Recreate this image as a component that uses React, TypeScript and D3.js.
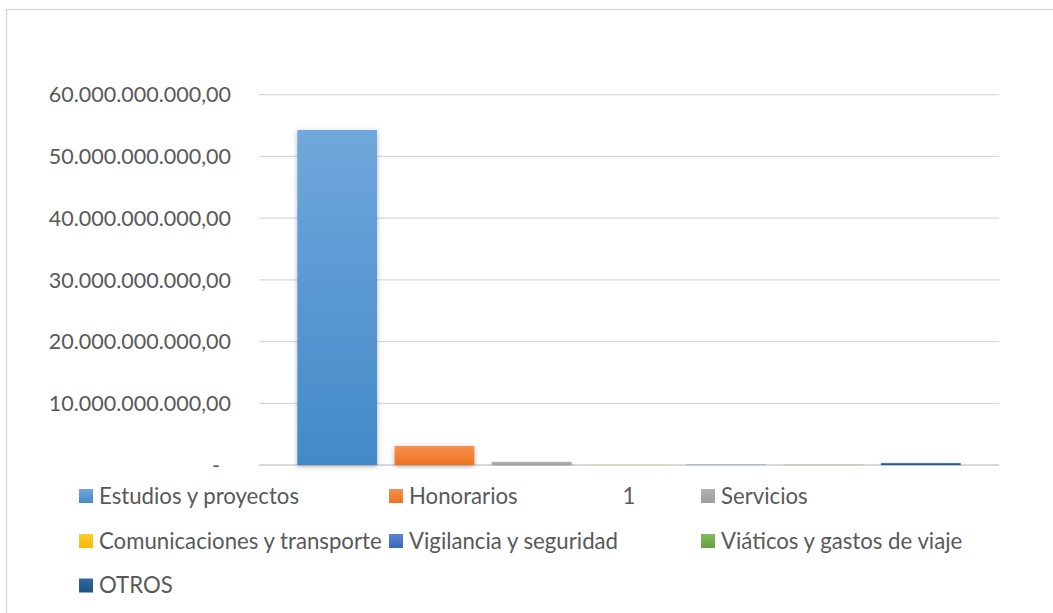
import React from "react";
import * as d3 from "d3";

const categories = ["1"];
const seriesNames = [
  "Estudios y proyectos",
  "Honorarios",
  "Servicios",
  "Comunicaciones y transporte",
  "Vigilancia y seguridad",
  "Viáticos y gastos de viaje",
  "OTROS",
];
const seriesValues = [54.28e9, 3.08e9, 0.5e9, 0.04e9, 0.06e9, 0.04e9, 0.3e9];
const yTicks = [0, 10e9, 20e9, 30e9, 40e9, 50e9, 60e9];
const colorsTop = ["#70A7DC", "#F5914F", "#B2B2B2", "#FFCD33", "#5B86D0", "#82BC5D", "#2F6AA0"];
const colorsBottom = ["#4389C8", "#EE7420", "#9D9D9D", "#F3B800", "#3B67B8", "#65A03C", "#1F5283"];

const W = 1053;
const H = 613;
const plotLeft = 259;
const plotRight = 999;
const plotTop = 94.7;
const plotBottom = 465;
const textColor = "#595959";
const fontFamily = "Lato, 'Open Sans', sans-serif";
const fontSize = 21.5;
const legendFontSize = 22.2;

const locale = d3.formatLocale({ decimal: ",", thousands: ".", grouping: [3], currency: ["", ""] });
const fmt = locale.format(",.2f");

export default function App() {
  const y = d3.scaleLinear().domain([0, 60e9]).range([plotBottom, plotTop]);
  const xCat = d3.scaleBand().domain(categories).range([plotLeft, plotRight]).padding(0);
  const x = d3
    .scaleBand()
    .domain(seriesNames)
    .range([xCat(categories[0])!, xCat(categories[0])! + xCat.bandwidth()])
    .paddingInner(0.18)
    .paddingOuter(0.394);

  const legendCols = [79, 389, 701];
  const legendRows = [496, 541, 585.5];
  const legendSlots: [number, number][] = [
    [0, 0],
    [1, 0],
    [2, 0],
    [0, 1],
    [1, 1],
    [2, 1],
    [0, 2],
  ];

  return (
    <div style={{ position: "absolute", left: 0, top: 0 }}>
      <svg width={W} height={H} style={{ display: "block", background: "#fff" }}>
        <defs>
          {seriesNames.map((s, i) => (
            <linearGradient key={s} id={`g${i}`} x1="0" y1="0" x2="0" y2="1">
              <stop offset="0" stopColor={colorsTop[i]} />
              <stop offset="1" stopColor={colorsBottom[i]} />
            </linearGradient>
          ))}
          <filter id="shadow" x="-20%" y="-20%" width="140%" height="140%">
            <feDropShadow dx="0" dy="1.5" stdDeviation="2.5" floodColor="#000" floodOpacity="0.3" />
          </filter>
        </defs>
        <rect x={6.5} y={9.5} width={W} height={H} fill="#fff" stroke="#D9D9D9" strokeWidth={1.5} />

        {yTicks.map((t) => (
          <g key={t}>
            <line
              x1={plotLeft}
              x2={plotRight}
              y1={y(t)}
              y2={y(t)}
              stroke="#D9D9D9"
              strokeWidth={t === 0 ? 2 : 1.3}
            />
            <text
              x={t === 0 ? 220 : 231}
              y={y(t)}
              dy="0.36em"
              textAnchor="end"
              fill={textColor}
              fontFamily={fontFamily}
              fontSize={fontSize}
            >
              {t === 0 ? "-" : fmt(t)}
            </text>
          </g>
        ))}

        {seriesNames.map((s, i) => (
          <rect
            key={s}
            x={x(s)}
            y={y(seriesValues[i])}
            width={x.bandwidth()}
            height={plotBottom - y(seriesValues[i])}
            fill={`url(#g${i})`}
            filter="url(#shadow)"
          />
        ))}

        {categories.map((c) => (
          <text
            key={c}
            x={xCat(c)! + xCat.bandwidth() / 2}
            y={legendRows[0]}
            dy="0.36em"
            textAnchor="middle"
            fill={textColor}
            fontFamily={fontFamily}
            fontSize={legendFontSize}
          >
            {c}
          </text>
        ))}

        {seriesNames.map((s, i) => {
          const [cx, ry] = legendSlots[i];
          const lx = legendCols[cx];
          const ly = legendRows[ry];
          return (
            <g key={s}>
              <rect x={lx} y={ly - 7} width={14} height={14} fill={`url(#g${i})`} />
              <text
                x={lx + 20}
                y={ly}
                dy="0.36em"
                fill={textColor}
                fontFamily={fontFamily}
                fontSize={legendFontSize}
              >
                {s}
              </text>
            </g>
          );
        })}
      </svg>
    </div>
  );
}
